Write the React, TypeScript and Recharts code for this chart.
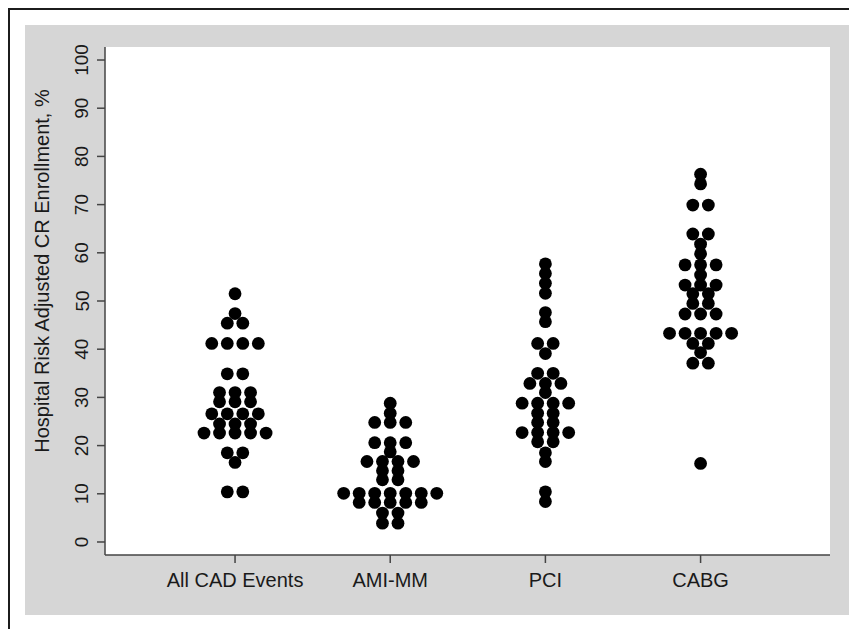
import { ScatterChart, Scatter, XAxis, YAxis, CartesianGrid } from 'recharts';

const categories = ['All CAD Events', 'AMI-MM', 'PCI', 'CABG'];

// hospital values per event type (repeats = dots sharing a row)
const allCadEvents = [
  51.5, 47.4, 45.4, 45.4, 41.2, 41.2, 41.2, 41.2, 34.9, 34.9,
  31.0, 31.0, 31.0, 29.1, 29.1, 29.1, 26.6, 26.6, 26.6, 26.6,
  24.5, 24.5, 24.5, 22.6, 22.6, 22.6, 22.6, 22.6, 18.5, 18.5,
  16.5, 10.4, 10.4,
];
const amiMm = [
  28.8, 26.7, 24.8, 24.8, 24.8, 20.6, 20.6, 20.6, 18.7, 16.7,
  16.7, 16.7, 16.7, 14.8, 14.8, 12.9, 12.9, 10.1, 10.1, 10.1,
  10.1, 10.1, 10.1, 10.1, 8.2, 8.2, 8.2, 8.2, 8.2, 6.0,
  6.0, 3.9, 3.9,
];
const pci = [
  57.7, 55.7, 53.7, 51.6, 47.6, 45.7, 41.2, 41.2, 39.1, 35.0,
  35.0, 32.9, 32.9, 32.9, 31.0, 28.8, 28.8, 28.8, 28.8, 26.7,
  26.7, 24.8, 24.8, 22.7, 22.7, 22.7, 22.7, 20.8, 20.8, 18.5,
  16.7, 10.4, 8.4,
];
const cabg = [
  76.3, 74.3, 69.9, 69.9, 63.9, 63.9, 61.8, 59.8, 57.5, 57.5,
  57.5, 55.4, 53.3, 53.3, 53.3, 51.5, 51.5, 49.5, 49.5, 47.3,
  47.3, 47.3, 43.3, 43.3, 43.3, 43.3, 43.3, 41.2, 41.2, 39.3,
  37.1, 37.1, 16.3,
];

const yTicks = [0, 10, 20, 30, 40, 50, 60, 70, 80, 90, 100];
const xTicks = [1, 2, 3, 4];

const DOT_STEP = 0.1;
const FONT = '"Liberation Sans", Arial, sans-serif';

// dotplot layout: equal values sit side by side, centred on the category
function swarm(values: number[], center: number) {
  const counts = new Map<number, number>();
  values.forEach((v) => counts.set(v, (counts.get(v) || 0) + 1));
  const seen = new Map<number, number>();
  return values.map((v) => {
    const n = counts.get(v) as number;
    const i = seen.get(v) || 0;
    seen.set(v, i + 1);
    return { x: center + (i - (n - 1) / 2) * DOT_STEP, y: v };
  });
}

const points = [allCadEvents, amiMm, pci, cabg].flatMap((g, i) => swarm(g, i + 1));

const Dot = (p: any) => <circle cx={p.cx} cy={p.cy} r={6.4} fill="#000" />;

const XTick = ({ x, y, payload }: any) => (
  <text x={x} y={y + 17} textAnchor="middle" dominantBaseline="central"
    fontFamily={FONT} fontSize={20} fill="#1a1a1a">
    {categories[payload.value - 1]}
  </text>
);

const YTick = ({ x, y, payload }: any) => (
  <text x={x - 15} y={y} textAnchor="middle" dominantBaseline="central"
    transform={`rotate(-90, ${x - 15}, ${y})`}
    fontFamily={FONT} fontSize={19} fill="#1a1a1a">
    {payload.value}
  </text>
);

const YTitle = () => (
  <text x={17} y={246} textAnchor="middle" dominantBaseline="central"
    transform="rotate(-90, 17, 246)" fontFamily={FONT} fontSize={20} fill="#1a1a1a">
    Hospital Risk Adjusted CR Enrollment, %
  </text>
);

export default function App() {
  return (
    <>
      <style>{'body{overflow:hidden}'}</style>
      <div style={{
        width: 849, height: 640, boxSizing: 'border-box',
        borderTop: '2px solid #1c1c1c', borderLeft: '2px solid #1c1c1c',
        position: 'relative',
      }}>
        <div style={{ position: 'absolute', left: 15, top: 15, width: 827, height: 590, background: '#d6d6d6' }}>
          <ScatterChart width={827} height={590} margin={{ top: 22, right: 22, bottom: 20, left: 0 }}>
            <CartesianGrid fill="#ffffff" fillOpacity={1} stroke="none" />
            <XAxis type="number" dataKey="x" domain={[0.162, 4.834]} ticks={xTicks}
              allowDataOverflow height={40} tickSize={8} tickMargin={0}
              axisLine={{ stroke: '#444', strokeWidth: 1.5 }}
              tickLine={{ stroke: '#444', strokeWidth: 1.5 }} tick={<XTick />} />
            <YAxis type="number" dataKey="y" domain={[-2.7, 102.7]} ticks={yTicks}
              allowDataOverflow width={80} tickSize={8} tickMargin={0}
              axisLine={{ stroke: '#444', strokeWidth: 1.5 }}
              tickLine={{ stroke: '#444', strokeWidth: 1.5 }} tick={<YTick />}
              label={<YTitle />} />
            <Scatter data={points} shape={<Dot />} isAnimationActive={false} />
          </ScatterChart>
        </div>
      </div>
    </>
  );
}
